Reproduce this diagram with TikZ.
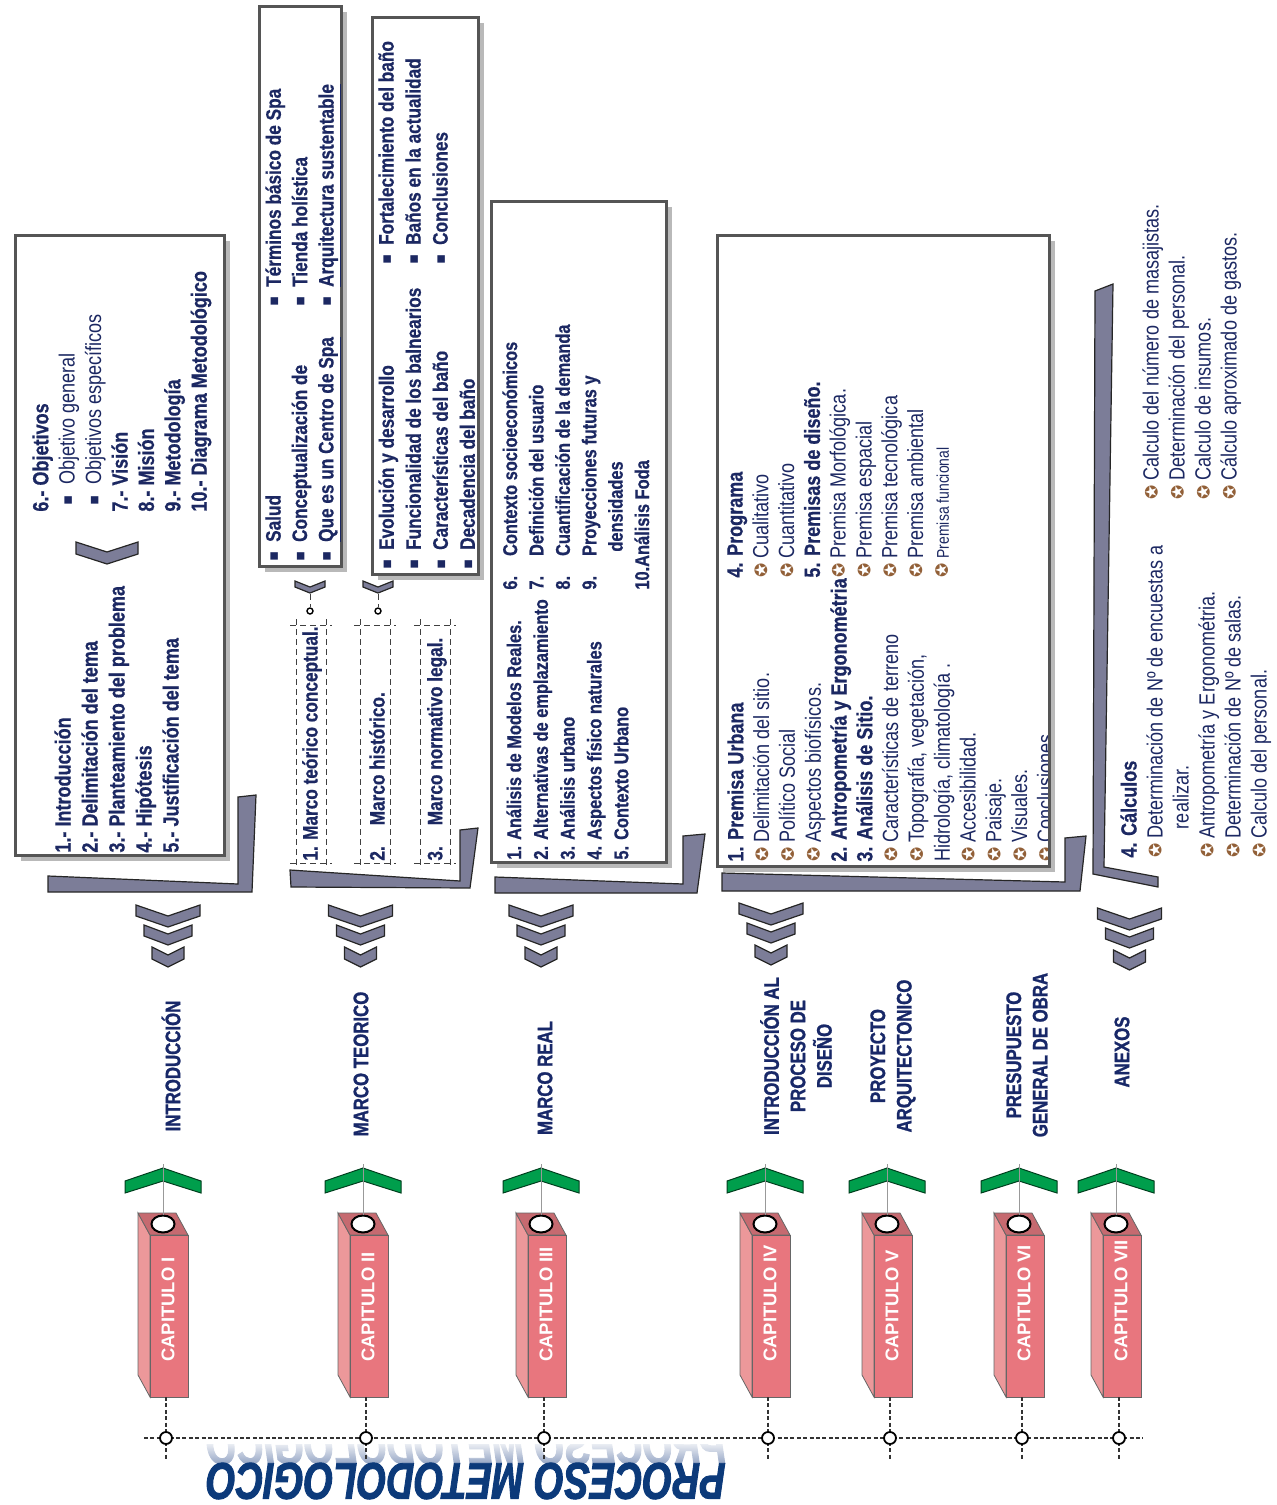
\documentclass[tikz,border=0pt]{standalone}
\usepackage{fontspec}
\setmainfont{Liberation Sans}[FakeStretch=0.82, BoldFeatures={FakeBold=0.6}]
\newfontfamily\capfont{Liberation Sans}
\newfontfamily\headfont{Liberation Sans}[FakeStretch=0.8, FakeBold=1.2]
\newfontfamily\bigfont{Liberation Sans}[FakeStretch=0.74,FakeBold=1.8]
\newfontfamily\symfont{DejaVu Sans}
\usetikzlibrary{shapes.geometric,fadings}

\definecolor{navy}{RGB}{28,40,98}
\definecolor{titlenavy}{RGB}{24,40,104}
\definecolor{bignavy}{RGB}{12,58,122}
\definecolor{reflect}{RGB}{140,158,192}
\definecolor{steel}{RGB}{124,125,152}
\definecolor{framegray}{RGB}{85,85,85}
\definecolor{pinkfront}{RGB}{232,118,126}
\definecolor{pinkside}{RGB}{236,152,154}
\definecolor{pinktop}{RGB}{198,106,112}
\definecolor{leafgreen}{RGB}{0,158,76}
\definecolor{bulletbrown}{RGB}{146,96,56}

\newcommand{\sqb}{\raisebox{0.12em}{\symfont\fontsize{7.5}{7.5}\selectfont ▪}}
\newcommand{\flor}{\raisebox{0.05em}{\symfont\fontsize{8.5}{8.5}\selectfont\textcolor{bulletbrown}{✪}}}
\newcommand{\vchev}[5]{\draw[steelshape] (#1-#3,#2) -- (#1,#2+#4) -- (#1+#3,#2) -- (#1+#3,#2+#5) -- (#1,#2+#4+#5) -- (#1-#3,#2+#5) -- cycle;}

\begin{document}
\begin{tikzpicture}[
  x=0.5pt, y=-0.5pt,
  txt/.style = {rotate=90, anchor=north west, align=left, text=navy, inner sep=0pt},
  frame/.style = {draw=framegray, line width=1.5pt, fill=white},
  shadow/.style = {fill=gray!55},
  steelshape/.style = {fill=steel, draw=black!85, line width=0.6pt},
  leaf/.style = {fill=leafgreen, draw=black!60!leafgreen, line width=0.5pt},
  prism/.style = {draw=black!60, line width=0.4pt},
  ttl/.style = {rotate=90, align=center, text=titlenavy, inner sep=0pt, font=\headfont\bfseries\fontsize{10.5}{13.2}\selectfont},
  caplabel/.style = {rotate=90, anchor=west, text=white, inner sep=0pt, font=\capfont\bfseries\fontsize{9.2}{11}\selectfont},
  dot/.style = {circle, draw=black, line width=0.9pt, fill=white, minimum size=6pt, inner sep=0pt},
  lolly/.style = {circle, draw=black, line width=0.7pt, fill=white, minimum size=3pt, inner sep=0pt},
  crop/.style = {densely dashed, line width=0.4pt, black!75},
  axis/.style = {dash pattern=on 2pt off 1.2pt, line width=0.6pt, black!80}
  ]
  \useasboundingbox (0,0) rectangle (1276,1505);

  % boxes
  \fill[shadow] (21,241) rectangle (230,861);
  \draw[frame] (15,235) rectangle (224,855);
  \fill[shadow] (265,12) rectangle (347,572);
  \draw[frame] (259,6) rectangle (341,566);
  \fill[shadow] (378,23) rectangle (484,580);
  \draw[frame] (372,17) rectangle (478,574);
  \fill[shadow] (497,207) rectangle (672,868);
  \draw[frame] (491,201) rectangle (666,862);
  \fill[shadow] (723,241) rectangle (1055,872);
  \draw[frame] (717,235) rectangle (1049,866);

  \node[txt, font=\bfseries\fontsize{11}{13.5}\selectfont] (introA) at (54,853)
    {1.- Introducción\\2.- Delimitación del tema\\3.- Planteamiento del problema\\4.- Hipótesis\\5.- Justificación del tema};
  \node[txt, font=\bfseries\fontsize{11}{13.2}\selectfont] (introB) at (32,512)
    {6.- Objetivos\\
     \hspace*{0.3em}{\mdseries\sqb\ \ Objetivo general}\\
     \hspace*{0.3em}{\mdseries\sqb\ \ Objetivos específicos}\\
     7.- Visión\\8.- Misión\\9.- Metodología\\10.- Diagrama Metodológico};
  \vchev{107}{542}{31}{10}{12}

  \node[txt, font=\bfseries\fontsize{10.5}{13.2}\selectfont] (teoA) at (265,562)
    {\sqb\ \ Salud\\\sqb\ \ Conceptualización de\\\sqb\ \ \underline{Que es un Centro de Spa}};
  \node[txt, font=\bfseries\fontsize{10.5}{13.2}\selectfont] (teoB) at (265,307)
    {\sqb\ \ Términos básico de Spa\\\sqb\ \ Tienda holística\\\sqb\ \ \underline{Arquitectura sustentable}};
  \node[txt, font=\bfseries\fontsize{10.5}{13.5}\selectfont] (hisA) at (378,570)
    {\sqb\ \ Evolución y desarrollo\\\sqb\ \ Funcionalidad de los balnearios\\\sqb\ \ Características del baño\\\sqb\ \ Decadencia del baño};
  \node[txt, font=\bfseries\fontsize{10.5}{13.5}\selectfont] (hisB) at (378,265)
    {\sqb\ \ Fortalecimiento del baño\\\sqb\ \ Baños en la actualidad\\\sqb\ \ Conclusiones};

  \vchev{310}{581}{15}{6}{6}
  \vchev{378}{581}{15}{6}{6}
  \coordinate (tipA) at (310,594);
  \coordinate (tipB) at (378,594);
  \node[lolly] (lolA) at (310,611) {};
  \node[lolly] (lolB) at (378,611) {};
  \draw[crop] (tipA) -- (lolA);
  \draw[crop] (tipB) -- (lolB);
  \foreach \a/\b in {296/326, 360/390, 420/450}
    \draw[crop] (\a-6,625) -- (\b+6,625) (\a-6,863) -- (\b+6,863) (\a,619) -- (\a,869) (\b,619) -- (\b,869);
  \tikzset{mt/.style = {rotate=90, anchor=west, text=navy, inner sep=0pt, font=\bfseries\fontsize{10.5}{12}\selectfont}}
  \node[mt] (mt1) at (312,861) {1. Marco teórico conceptual.};
  \node[mt] (mt2) at (377,861) {2.\quad Marco histórico.};
  \node[mt] (mt3) at (437,861) {3.\quad Marco normativo legal.};

  \node[txt, font=\bfseries\fontsize{10}{13.4}\selectfont] (realA) at (506,860)
    {1. Análisis de Modelos Reales.\\2. Alternativas de emplazamiento\\3. Análisis urbano\\4. Aspectos físico naturales\\5. Contexto Urbano};
  \node[txt, font=\bfseries\fontsize{10}{13.2}\selectfont] (realB) at (502,590)
    {6.\quad Contexto socioeconómicos\\7.\quad Definición del usuario\\8.\quad Cuantificación de la demanda\\9.\quad Proyecciones futuras y\\\hspace*{1.9em}densidades\\10.Análisis Foda};

  \begin{scope}
    \clip (719,237) rectangle (1047,864);
    \node[txt, font=\fontsize{11}{12.9}\selectfont] (disA) at (727,862)
      {\textbf{1. Premisa Urbana}\\\flor\ Delimitación del sitio.\\\flor\ Político Social\\\flor\ Aspectos biofísicos.\\
       \textbf{2. Antropometría y Ergonométria}\\\textbf{3. Análisis de Sitio.}\\\flor\ Características de terreno\\
       \flor\ Topografía, vegetación,\\Hidrología, climatología .\\\flor\ Accesibilidad.\\\flor\ Paisaje.\\\flor\ Visuales.\\\flor\ Conclusiones};
    \node[txt, font=\fontsize{11}{12.9}\selectfont] (disB) at (727,578)
      {\textbf{4. Programa}\\\flor\ Cualitativo\\\flor\ Cuantitativo\\\textbf{5. Premisas de diseño.}\\\flor\ Premisa Morfológica.\\
       \flor\ Premisa espacial\\\flor\ Premisa tecnológica\\\flor\ Premisa ambiental\\\flor\ {\fontsize{8.5}{10}\selectfont Premisa funcional}};
  \end{scope}

  \node[txt, font=\fontsize{11}{13}\selectfont] (anxA) at (1120,858)
    {\textbf{4. Cálculos}\\\flor\ Determinación de Nº de encuestas a\\\hspace*{1.3em}realizar.\\\flor\ Antropometría y Ergonométria.\\
     \flor\ Determinación de Nº de salas.\\\flor\ Calculo del personal.};
  \node[txt, font=\fontsize{11}{13}\selectfont] (anxB) at (1142,500)
    {\flor\ Calculo del número de masajistas.\\\flor\ Determinación del personal.\\\flor\ Calculo de insumos.\\\flor\ Cálculo aproximado de gastos.};

  % brackets
  \draw[steelshape] (48,876) -- (238,884) -- (238,797) -- (256,795) -- (252,892) -- (48,892) -- cycle;
  \draw[steelshape] (290,870) -- (460,881) -- (460,830) -- (478,828) -- (470,888) -- (291,887) -- cycle;
  \draw[steelshape] (495,877) -- (683,884) -- (683,836) -- (705,834) -- (697,893) -- (495,893) -- cycle;
  \draw[steelshape] (722,873) -- (1065,882) -- (1065,838) -- (1086,836) -- (1080,891) -- (722,891) -- cycle;
  \draw[steelshape] (1095,291) -- (1113,284) -- (1104,867) -- (1158,877) -- (1158,887) -- (1093,874) -- cycle;

  \foreach \cx/\ty in {168/905, 360.5/905, 541/905, 771/903, 1129.5/908} {
    \vchev{\cx}{\ty}{32}{11}{11}
    \vchev{\cx}{\ty+20}{24}{9}{11}
    \vchev{\cx}{\ty+42}{16}{8}{12}
  }

  \node[ttl] (t1) at (171,1066) {INTRODUCCIÓN};
  \node[ttl] (t2) at (361,1064) {MARCO TEORICO};
  \node[ttl] (t3) at (545,1078) {MARCO REAL};
  \node[ttl] (t4) at (796,1056) {INTRODUCCIÓN AL\\PROCESO DE\\DISEÑO};
  \node[ttl] (t5) at (893,1056) {PROYECTO\\ARQUITECTONICO};
  \node[ttl] (t6) at (1027,1055) {PRESUPUESTO\\GENERAL DE OBRA};
  \node[ttl] (t7) at (1122,1052) {ANEXOS};

  % title and its reflection
  \begin{scope}
    \clip (200,1444) rectangle (735,1465);
    \node[text=reflect, font=\bigfont\bfseries\itshape\fontsize{25.8}{26}\selectfont, xscale=-1, anchor=base, inner sep=0pt] (ttlEcho) at (466,1464) {PROCESO METODOLOGICO};
    \fill[white, path fading=south, fill opacity=0.85] (200,1443) rectangle (735,1466);
  \end{scope}
  \node[text=bignavy, font=\bigfont\bfseries\itshape\fontsize{25.8}{26}\selectfont, rotate=180, inner sep=0pt] (ttlMain) at (466,1481) {PROCESO METODOLOGICO};

  \coordinate (lineL) at (144,1438);
  \coordinate (lineR) at (1143,1438);
  \draw[axis] (lineL) -- (lineR);

  \foreach \F/\R [count=\i] in {150/I,350/II,528/III,752/IV,874/V,1006/VI,1103/VII} {
    \path[prism, fill=pinkside] (\F,1235) -- (\F-12,1213) -- (\F-12,1375) -- (\F,1397) -- cycle;
    \path[prism, fill=pinktop] (\F,1235) -- (\F+38,1235) -- (\F+26,1213) -- (\F-12,1213) -- cycle;
    \path[prism, fill=pinkfront] (\F,1235) rectangle (\F+38,1397);
    \node[ellipse, draw=black, line width=1pt, fill=white, minimum width=11.5pt, minimum height=8.5pt, inner sep=0pt] (ell\i) at (\F+13,1224) {};
    \path[leaf] (\F-25,1181) -- (\F+13,1168) -- (\F+51,1181) -- (\F+51,1193) -- (\F+13,1181) -- (\F-25,1193) -- cycle;
    \coordinate (apex\i) at (\F+13,1164);
    \draw[gray!80, line width=0.4pt] (apex\i) -- (ell\i.north);
    \node[caplabel] (cap\i) at (\F+18,1362) {CAPITULO \R};
    \coordinate (bot\i) at (\F+16,1397);
    \coordinate (tail\i) at (\F+16,1460);
    \draw[axis] (bot\i) -- (tail\i);
    \node[dot] (dot\i) at (\F+16,1438) {};
  }
\end{tikzpicture}
\end{document}
